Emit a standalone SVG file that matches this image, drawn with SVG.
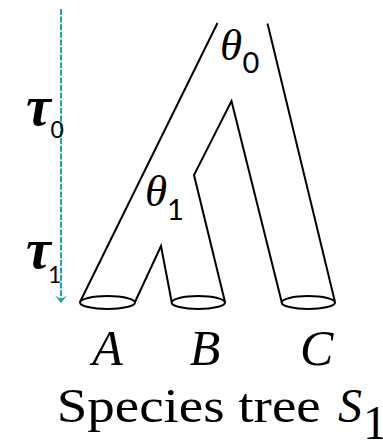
<svg xmlns="http://www.w3.org/2000/svg" width="383" height="441" viewBox="0 0 383 441">
<style>
.br{fill:none;stroke:#000;stroke-width:2;stroke-linejoin:miter}
.el{fill:#fff;stroke:#000;stroke-width:2}
.gr{font-family:"Liberation Serif","DejaVu Serif",serif;font-style:italic}
.tau{font-family:"Liberation Serif","DejaVu Serif",serif;font-style:italic;font-weight:bold;font-size:56px}
.sub{font-family:Lato,"Open Sans",sans-serif}
.lab{font-family:"Liberation Serif","DejaVu Serif",serif;font-style:italic;font-size:50px;text-anchor:middle}
.cap{font-family:"Liberation Serif","DejaVu Serif",serif;font-size:48px}
</style>
<rect width="383" height="441" fill="#fff"/>
<g id="time-axis">
<line x1="61" y1="9" x2="61" y2="299" stroke="#22a3a3" stroke-width="2" stroke-dasharray="6,1.6"/>
<path d="M55,295.5 L61,303 L67,295.5 L61,299 Z" fill="#22a3a3"/>
<text class="tau" x="26" y="125">τ</text><text class="sub" x="50.5" y="138" font-size="23">0</text>
<text class="tau" x="26" y="268">τ</text><text class="sub" x="48" y="283" font-size="23">1</text>
</g>
<g id="connectors">
<path class="br" d="M80,302 L217.5,23"/>
<path class="br" d="M267.5,23.5 L335,302"/>
<path class="br" d="M225,302 L194,175 L231.5,101 L281.7,302"/>
<path class="br" d="M135,302 L161,246 L171.7,302"/>
</g>
<g id="node-root">
<text class="gr" x="220" y="60" font-size="45">θ</text><text class="sub" x="242.5" y="73" font-size="29">0</text>
</g>
<g id="node-AB">
<text class="gr" x="145" y="206" font-size="45">θ</text><text class="sub" x="167" y="220" font-size="29">1</text>
</g>
<g id="node-A">
<ellipse class="el" cx="107.5" cy="302.5" rx="27.5" ry="6.5"/>
<text class="lab" x="107.5" y="365">A</text>
</g>
<g id="node-B">
<ellipse class="el" cx="198.3" cy="302.5" rx="26.7" ry="6.5"/>
<text class="lab" x="205" y="365">B</text>
</g>
<g id="node-C">
<ellipse class="el" cx="308.3" cy="302.5" rx="26.7" ry="6.5"/>
<text class="lab" x="316.7" y="365">C</text>
</g>
<g id="caption">
<text class="cap" x="56.7" y="422" textLength="264" lengthAdjust="spacingAndGlyphs">Species tree</text>
<text class="cap" x="338" y="422" font-style="italic">S</text>
<text class="cap" x="363" y="439" font-size="25">1</text>
</g>
</svg>
